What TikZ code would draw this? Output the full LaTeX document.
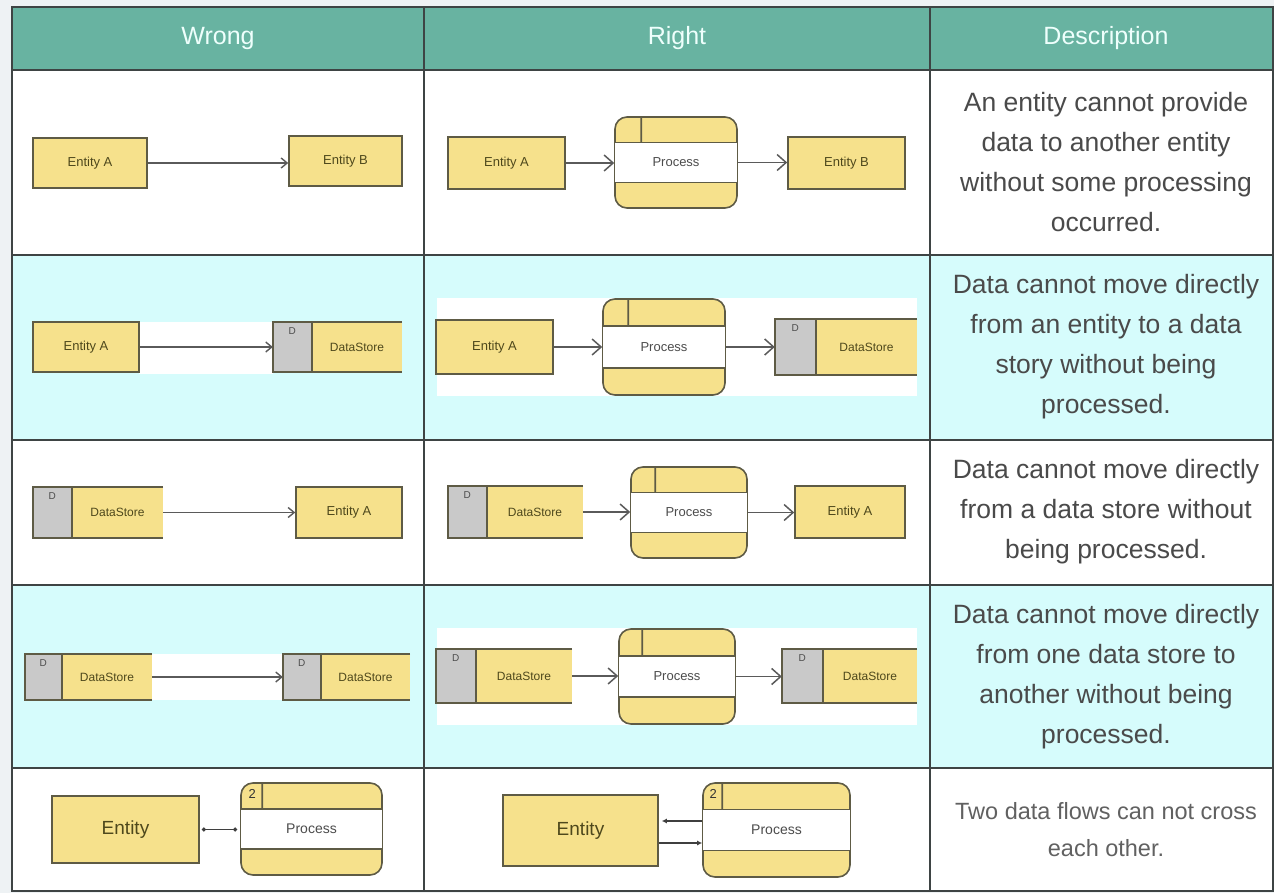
\documentclass[tikz,border=0pt]{standalone}
\usepackage{fontspec}
\setmainfont{Liberation Sans}
\usetikzlibrary{arrows.meta,calc}
\definecolor{hdrc}{HTML}{68B3A1}
\definecolor{hdrtxt}{HTML}{EEFFFC}
\definecolor{cyanrow}{HTML}{D6FCFC}
\definecolor{ylw}{HTML}{F6E18C}
\definecolor{edgec}{HTML}{5E5B45}
\definecolor{lblc}{HTML}{4E481C}
\definecolor{dsgray}{HTML}{C9C9C9}
\definecolor{gridc}{HTML}{3E4444}
\definecolor{arrc}{HTML}{5A5A5A}
\definecolor{desc}{HTML}{4A4A4A}
\definecolor{bgc}{HTML}{EEF2F4}

\newcommand\entnode[6]{%
  \node[ent, minimum width={#4-#2}, minimum height={#5-#3}] (#1) at ({(#2+#4)/2},{(#3+#5)/2}) {#6};}

\newcommand\dsnode[6]{%
  \node[dsst, minimum width={#4-#2}, minimum height={#5-#3}] (#1) at ({(#2+#4)/2},{(#3+#5)/2}) {\hspace*{#6pt}DataStore};
  \fill[dsgray] (#1.north west) rectangle ($(#1.south west)+(#6,0)$);
  \draw[edge] (#1.north east) -- (#1.north west) -- (#1.south west) -- (#1.south east);
  \draw[edge] ($(#1.north west)+(#6,0)$) -- ($(#1.south west)+(#6,0)$);
  \node[dlbl] (#1-d) at ($(#1.north west)+(#6/2,9)$) {D};}

\newcommand\procnode[9]{%
  \node[procst, minimum width={#4-#2}, minimum height={#5-#3}] (#1) at ({(#2+#4)/2},{(#3+#5)/2}) {};
  \fill[white] ($(#1.north west)!0.285!(#1.south west)+(0.9,0)$) rectangle ($(#1.north east)!0.715!(#1.south east)+(-0.9,0)$);
  \draw[edge] ($(#1.north west)!0.285!(#1.south west)$) -- ($(#1.north east)!0.285!(#1.south east)$);
  \draw[edge] ($(#1.north west)!0.715!(#1.south west)$) -- ($(#1.north east)!0.715!(#1.south east)$);
  \draw[edge] ($(#1.north west)+(#6,0)$) -- ($(#1.north west)!0.285!(#1.south west)+(#6,0)$);
  \node[plbl, font=\fontsize{#9}{#9}\selectfont] (#1-t) at (#1) {#7};
  \node[nlbl] (#1-n) at ($(#1.north west)+(#6/2+1,12)$) {#8};}

\begin{document}
\begin{tikzpicture}[x=1pt,y=-1pt,
  edge/.style={draw=edgec, line width=1.6pt},
  ent/.style={draw=edgec, line width=1.6pt, fill=ylw, inner sep=0pt, text=lblc, font=\fontsize{13}{15}\selectfont},
  dsst/.style={fill=ylw, inner sep=0pt, text=lblc, font=\fontsize{12}{14}\selectfont},
  procst/.style={draw=edgec, line width=1.6pt, fill=ylw, rounded corners=12pt, inner sep=0pt},
  dlbl/.style={inner sep=0pt, text=black!70, font=\fontsize{10}{11}\selectfont},
  plbl/.style={inner sep=0pt, text=black!70},
  nlbl/.style={inner sep=0pt, text=black!80, font=\fontsize{13}{13}\selectfont},
  flow/.style={draw=arrc, line width=1.5pt, -{Straight Barb[length=9pt,width=16pt,line width=1.5pt]}},
  flowsm/.style={draw=arrc, line width=1.4pt, -{Straight Barb[length=6pt,width=10pt,line width=1.4pt]}},
  flowdot/.style={draw=arrc!70!black, line width=1.4pt},
  hdr/.style={text=hdrtxt, font=\fontsize{25}{28}\selectfont, inner sep=0pt},
  dtext/.style={text=desc, align=center, inner sep=0pt, font=\fontsize{26.5}{40}\selectfont},
  grid/.style={draw=gridc, line width=1.4pt}
]
\useasboundingbox (0,0) rectangle (1274,893);
\fill[bgc] (0,0) rectangle (1274,893);
% table background
\fill[white] (12,70) rectangle (1274,891);
\fill[hdrc] (12,7) rectangle (1274,70);
\fill[cyanrow] (12,255) rectangle (1274,440);
\fill[cyanrow] (12,585) rectangle (1274,768);
% white bands behind pasted diagrams
\fill[white] (139,322) rectangle (273,374);
\fill[white] (437,298) rectangle (917,396);
\fill[white] (152,654) rectangle (283,700);
\fill[white] (437,628) rectangle (917,725);
% grid
\draw[grid] (12,7) rectangle (1273,891);
\draw[grid] (424,7) -- (424,891);
\draw[grid] (930,7) -- (930,891);
\foreach \yy in {70,255,440,585,768} \draw[grid] (12,\yy) -- (1273,\yy);

% header
\node[hdr] (h1) at (218,38) {Wrong};
\node[hdr] (h2) at (677,38) {Right};
\node[hdr] (h3) at (1106,38) {Description};

% Row 1
\entnode{w1a}{33}{138}{147}{188}{Entity A}
\entnode{w1b}{289}{136}{402}{186}{Entity B}
\draw[flowsm] (w1a.east) -- (w1a.east -| w1b.west);
\entnode{r1a}{448}{137}{565}{189}{Entity A}
\procnode{r1p}{615}{117}{737}{208}{27}{Process}{}{13}
\entnode{r1b}{788}{137}{905}{189}{Entity B}
\draw[flow] (r1a.east) -- (r1a.east -| r1p.west);
\draw[flow] (r1p.east) -- (r1p.east -| r1b.west);
\node[dtext] (d1) at (1106,162) {An entity cannot provide\\data to another entity\\without some processing\\occurred.};

% Row 2
\entnode{w2a}{33}{322}{139}{372}{Entity A}
\dsnode{w2d}{273}{322}{402}{372}{39}
\draw[flowsm] (w2a.east) -- (w2a.east -| w2d.west);
\entnode{r2a}{436}{320}{553}{374}{Entity A}
\procnode{r2p}{603}{299}{725}{395}{26}{Process}{}{13}
\dsnode{r2d}{775}{319}{917}{375}{41}
\draw[flow] (r2a.east) -- (r2a.east -| r2p.west);
\draw[flow] (r2p.east) -- (r2p.east -| r2d.west);
\node[dtext] (d2) at (1106,347) {Data cannot move directly\\from an entity to a data\\story without being\\processed.};

% Row 3
\dsnode{w3d}{33}{487}{163}{538}{39}
\entnode{w3a}{296}{487}{402}{538}{Entity A}
\draw[flowsm] (w3d.east) -- (w3d.east -| w3a.west);
\dsnode{r3d}{448}{486}{583}{538}{39}
\procnode{r3p}{631}{467}{747}{558}{25}{Process}{}{13}
\entnode{r3a}{795}{486}{905}{538}{Entity A}
\draw[flow] (r3d.east) -- (r3d.east -| r3p.west);
\draw[flow] (r3p.east) -- (r3p.east -| r3a.west);
\node[dtext] (d3) at (1106,512) {Data cannot move directly\\from a data store without\\being processed.};

% Row 4
\dsnode{w4d}{25}{654}{152}{700}{37}
\dsnode{w4e}{283}{654}{410}{700}{38}
\draw[flowsm] (w4d.east) -- (w4d.east -| w4e.west);
\dsnode{r4d}{436}{649}{572}{703}{40}
\procnode{r4p}{619}{629}{735}{724}{24}{Process}{}{13}
\dsnode{r4e}{782}{649}{917}{703}{41}
\draw[flow] (r4d.east) -- (r4d.east -| r4p.west);
\draw[flow] (r4p.east) -- (r4p.east -| r4e.west);
\node[dtext] (d4) at (1106,677) {Data cannot move directly\\from one data store to\\another without being\\processed.};

% Row 5
\node[ent, minimum width=147, minimum height=67, font=\fontsize{19}{22}\selectfont] (w5a) at (125.5,829.5) {Entity};
\procnode{w5p}{241}{783}{382}{875}{22}{Process}{2}{14}
\draw[flowdot, {Circle[length=4pt]}-{Circle[length=4pt]}, shorten <=2pt, shorten >=3pt] (w5a.east) -- (w5a.east -| w5p.west);
\node[ent, minimum width=155, minimum height=71, font=\fontsize{19}{22}\selectfont] (r5a) at (580.5,830.5) {Entity};
\procnode{r5p}{703}{783}{850}{877}{20}{Process}{2}{14}
\coordinate (u1) at ($(r5p.west)+(0,-9)$);
\coordinate (u2) at ($(r5p.west)+(0,13)$);
\draw[flowdot, -{Latex[length=5pt,width=5pt]}, shorten >=3pt] (u1) -- (u1 -| r5a.east);
\draw[flowdot, -{Latex[length=5pt,width=5pt]}] (u2 -| r5a.east) -- (u2);
\node[dtext, text=black!62, font=\fontsize{23.5}{37}\selectfont] (d5) at (1106,829.5) {Two data flows can not cross\\each other.};
\end{tikzpicture}
\end{document}
